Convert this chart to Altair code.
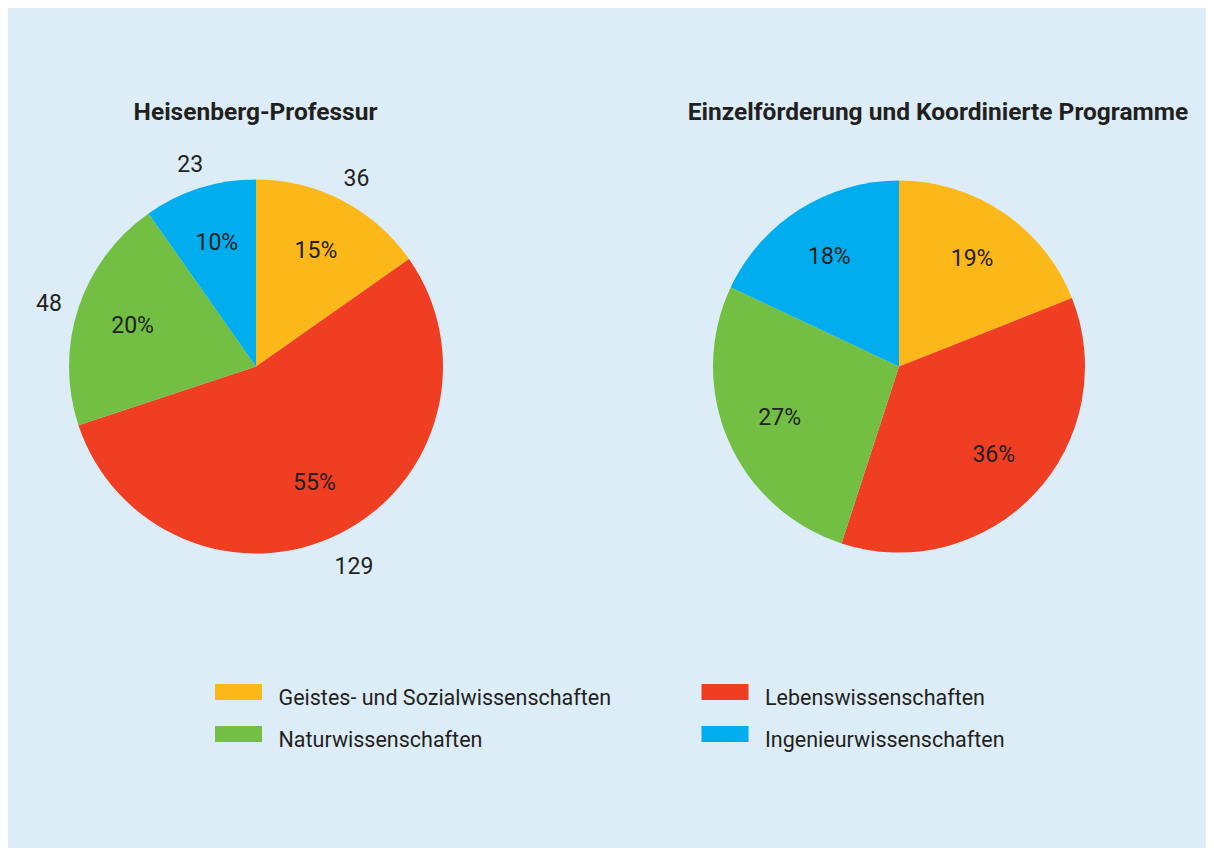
import altair as alt
import pandas as pd

categories = ["Geistes- und Sozialwissenschaften", "Lebenswissenschaften",
              "Naturwissenschaften", "Ingenieurwissenschaften"]
palette = ["#fbb818", "#f03e23", "#72bf44", "#00adee"]
heisenberg_counts = [36, 129, 48, 23]
heisenberg_pct = ["15%", "55%", "20%", "10%"]
einzel_pct = [19, 36, 27, 18]
einzel_labels = ["19%", "36%", "27%", "18%"]
titles = ["Heisenberg-Professur", "Einzelförderung und Koordinierte Programme"]

FONT = "Roboto, 'Noto Sans', sans-serif"
INK = "#231f20"
BG = "#ddedf7"

left_df = pd.DataFrame({
    "category": categories,
    "value": heisenberg_counts,
    "pct": heisenberg_pct,
    "count": [str(v) for v in heisenberg_counts],
    "order": list(range(len(categories))),
})
right_df = pd.DataFrame({
    "category": categories,
    "value": einzel_pct,
    "pct": einzel_labels,
    "order": list(range(len(categories))),
})
legend_df = pd.DataFrame({
    "category": categories,
    "col": [i % 2 for i in range(len(categories))],
    "row": [i // 2 for i in range(len(categories))],
})

color = alt.Color("category:N", scale=alt.Scale(domain=categories, range=palette), legend=None)
theta = alt.Theta("value:Q", stack=True)
order = alt.Order("order:Q")


def pie_layers(df, cx, cy, r, with_counts):
    base = alt.Chart(df).encode(theta=theta, order=order, x=alt.value(cx), y=alt.value(cy))
    layers = [
        base.mark_arc(outerRadius=r).encode(color=color),
        base.mark_text(radius=130, font=FONT, fontSize=23, color=INK).encode(text="pct:N"),
    ]
    if with_counts:
        layers.append(base.mark_text(radius=218, dy=6, font=FONT, fontSize=23, color=INK).encode(text="count:N"))
    return layers


def title_layer(text, cx, cy):
    return alt.Chart(pd.DataFrame({"t": [text]})).mark_text(
        font=FONT, fontSize=24.5, fontWeight="bold", color=INK, baseline="middle", align="center"
    ).encode(text="t:N", x=alt.value(cx), y=alt.value(cy))


xs = alt.X("col:Q", scale=alt.Scale(domain=[0, 1], range=[230.5, 717]), axis=None)
ys = alt.Y("row:Q", scale=alt.Scale(domain=[0, 1], range=[684, 726]), axis=None)

legend_sym = alt.Chart(legend_df).mark_point(
    shape="M-1,-0.34H1V0.34H-1Z", size=47 * 47, filled=True, opacity=1, strokeWidth=0
).encode(x=xs, y=ys, color=color)

legend_txt = alt.Chart(legend_df).mark_text(
    font=FONT, fontSize=21.5, color=INK, align="left", baseline="alphabetic", dx=40, dy=13
).encode(x=xs, y=ys, text="category:N")

layers = (
    pie_layers(left_df, 248, 358.5, 187, True)
    + pie_layers(right_df, 891, 358.5, 186, False)
    + [title_layer(titles[0], 247.5, 105), title_layer(titles[1], 930, 105), legend_sym, legend_txt]
)

chart = alt.layer(*layers).resolve_scale(theta="independent").properties(
    width=1198, height=840, autosize=alt.AutoSizeParams(type="none"), padding=0, background=BG
).configure_view(stroke=None)

chart.save("out.html", embed_options={"renderer": "svg", "actions": False})
